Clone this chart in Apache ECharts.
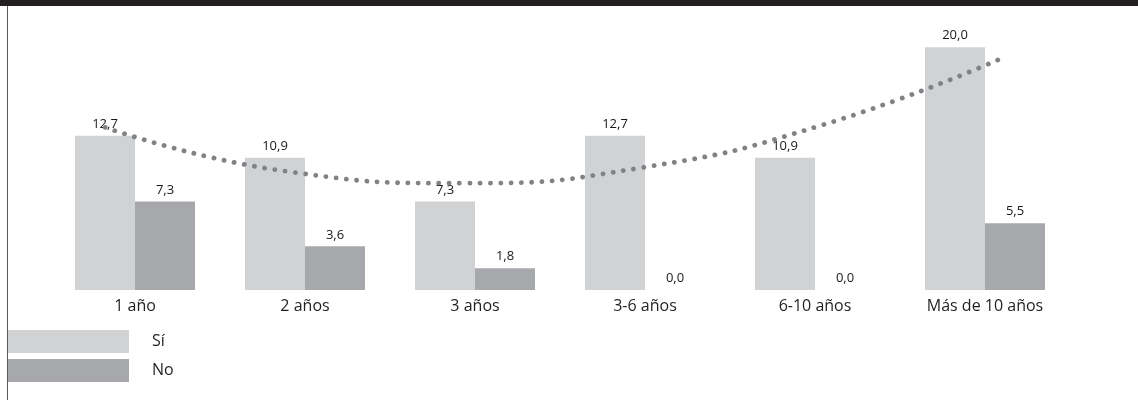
<!DOCTYPE html>
<html>
<head>
<meta charset="utf-8">
<script src="https://cdn.jsdelivr.net/npm/echarts@6/dist/echarts.min.js"></script>
<style>
html,body{margin:0;padding:0;background:#fff;}
#chart{width:1138px;height:400px;}
</style>
</head>
<body>
<div id="chart"></div>
<script>
var categories = ['1 año', '2 años', '3 años', '3-6 años', '6-10 años', 'Más de 10 años'];
var siValues = [12.7, 10.9, 7.3, 12.7, 10.9, 20.0];
var noValues = [7.3, 3.6, 1.8, 0.0, 0.0, 5.5];
var trendX = [1, 2, 3, 4, 5, 6];
var trendValues = [13.4, 9.8, 8.8, 10.1, 13.6, 19.1];

var fmt = function (p) { return p.value.toFixed(1).replace('.', ','); };
var font = '"Open Sans", "Noto Sans", sans-serif';

var chart = echarts.init(document.getElementById('chart'), null, {renderer: 'canvas'});
chart.setOption({
  animation: false,
  backgroundColor: '#ffffff',
  grid: {left: 50, right: 68, top: 23, bottom: 110},
  legend: {
    orient: 'vertical',
    left: 8,
    top: 330,
    padding: 0,
    itemWidth: 121,
    itemHeight: 23,
    itemGap: 6,
    icon: 'rect',
    data: ['Sí', 'No'],
    textStyle: {fontFamily: font, fontSize: 16, color: '#231f20', padding: [2, 0, 0, 18]}
  },
  xAxis: [
    {
      type: 'category',
      data: categories,
      axisLine: {show: false},
      axisTick: {show: false},
      axisLabel: {fontFamily: font, fontSize: 16, color: '#231f20', margin: 8}
    },
    {
      type: 'value',
      show: false,
      min: 0.693,
      max: 6.379
    }
  ],
  yAxis: {
    type: 'value',
    min: 0,
    max: 22,
    show: false,
    splitLine: {show: false}
  },
  series: [
    {
      name: 'Sí',
      type: 'bar',
      data: siValues,
      barWidth: 60,
      barGap: '0%',
      itemStyle: {color: '#d1d2d4'},
      label: {show: true, position: 'top', distance: 5, formatter: fmt,
        fontFamily: font, fontSize: 13, color: '#1a1718'}
    },
    {
      name: 'No',
      type: 'bar',
      data: noValues,
      barWidth: 60,
      barGap: '0%',
      itemStyle: {color: '#a7a8ab'},
      label: {show: true, position: 'top', distance: 5, formatter: fmt,
        fontFamily: font, fontSize: 13, color: '#1a1718'}
    },
    {
      name: 'Tendencia',
      type: 'line',
      xAxisIndex: 1,
      data: trendX.map(function (x, i) { return [x, trendValues[i]]; }),
      smooth: 0.5,
      symbol: 'none',
      z: 5,
      lineStyle: {color: '#808285', width: 4.8, type: [0.1, 10.2], cap: 'round'}
    }
  ],
  graphic: [
    {type: 'rect', shape: {x: 0, y: 0, width: 1138, height: 6}, style: {fill: '#231f20'}},
    {type: 'line', shape: {x1: 7.5, y1: 6, x2: 7.5, y2: 400}, style: {stroke: '#58595b', lineWidth: 1}}
  ]
});
</script>
</body>
</html>
